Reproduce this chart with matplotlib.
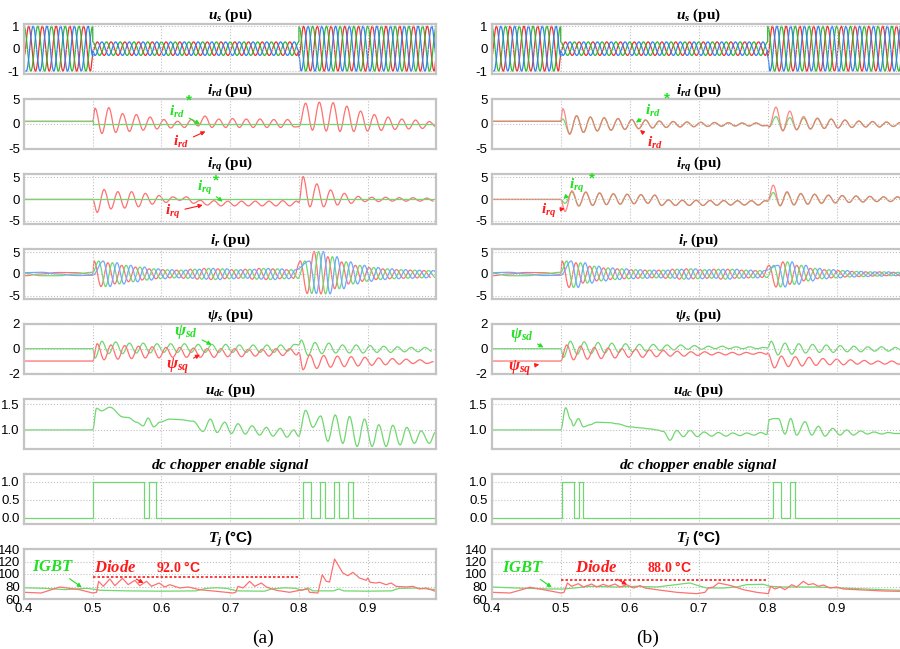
import numpy as np
import matplotlib
matplotlib.use('Agg')
import matplotlib.pyplot as plt
from matplotlib.path import Path
from matplotlib.patches import PathPatch

plt.rcParams['font.family'] = 'Liberation Sans'
plt.rcParams['mathtext.fontset'] = 'custom'
plt.rcParams['mathtext.it'] = 'Liberation Serif:italic:bold'
plt.rcParams['mathtext.rm'] = 'Liberation Serif:bold'
plt.rcParams['mathtext.bf'] = 'Liberation Serif:bold'
plt.rcParams['mathtext.sf'] = 'Liberation Sans:bold'

HALF = 0.01  # half period of the 50 Hz oscillations

# ---------------- data ----------------
x_ticks = [0.4, 0.5, 0.6, 0.7, 0.8, 0.9]

# stator voltage amplitude per interval (pre-fault, fault, recovery)
us_amp = [1.0, 0.3, 1.0]
us_edges = [0.5, 0.8]
us_lags = [0.0067, 0.0, 0.0133]  # red, green, blue

# oscillating traces: value at 0.4, [value at 0.5, extrema...], [value at 0.8, extrema...]
ird_a_red_pre = 0.55
ird_a_red_f = [0.55, 3.2, -1.9, 3.3, -1.7, 2.1, -1.5, 1.9, -1.25, 1.4, -1.0, 0.9, -0.8, 0.55, -0.7,
               0.9, -0.4, 1.6, -0.7, 1.0, -0.7, 1.1, -0.7, 1.0, -0.7, 1.0, -0.7, 0.9, -0.7, 0.9, -0.6]
ird_a_red_r = [-0.55, 4.2, -1.25, 4.4, -1.4, 4.3, -1.5, 3.6, -1.5, 2.6, -1.4, 1.9, -1.3, 1.4, -1.1,
               1.0, -1.0, 0.8, -0.9, 0.5, -0.6]
ird_a_lags = [0.0034, 0.0097]
ird_a_ref = [0.55, 0.0]

ird_b_red_pre = 0.55
ird_b_red_f = [0.55, 3.1, -2.1, 1.7, -1.7, 1.4, -1.4, 1.25, -1.25, 1.1, -1.1, 0.9, -0.95, 0.8, -0.8,
               0.6, -0.7, 0.5, -0.6, 0.4, -0.55, 0.35, -0.5, 0.3, -0.45, 0.25, -0.4, 0.2, -0.4, 0.2, -0.35]
ird_b_red_r = [-0.3, -0.6, 3.4, -1.4, 2.6, -1.2, 1.5, -1.0, 1.2, -0.9, 1.0, -0.8, 0.8, -0.7, 0.6,
               -0.6, 0.5, -0.6, 0.4, -0.5, 0.3]
ird_b_grn_f = [0.55, 1.0, -1.9, 1.6, -1.7, 1.4, -1.4, 1.25, -1.25, 1.1, -1.1, 0.9, -0.95, 0.8, -0.8,
               0.6, -0.7, 0.5, -0.6, 0.4, -0.55, 0.35, -0.5, 0.3, -0.45, 0.25, -0.4, 0.2, -0.4, 0.2, -0.35]
ird_b_grn_r = [-0.3, -0.6, 1.5, -1.3, 1.3, -1.1, 1.2, -1.0, 1.1, -0.9, 1.0, -0.8, 0.8, -0.7, 0.6,
               -0.6, 0.5, -0.6, 0.4, -0.5, 0.3]
ird_b_lags = [0.003, 0.002]

irq_a_red_pre = -0.1
irq_a_red_f = [-0.1, -3.1, 2.2, -2.3, 1.7, -2.1, 1.7, -1.8, 1.3, -1.2, 0.8, -0.8, 0.5, -0.3, 0.5,
               -1.0, -0.3, -1.4, -0.4, -1.6, -0.5, -1.6, -0.5, -1.6, -0.5, -1.6, -0.5, -1.6, -0.4, -1.6, -0.5]
irq_a_red_r = [-0.8, 5.2, -1.8, 3.5, -1.8, 2.1, -1.4, 1.3, -1.0, 0.6, -0.6, 0.4, -0.6, 0.4, -0.5,
               0.3, -0.5, 0.3, -0.5, 0.2, -0.5]
irq_a_lags = [0.0065, 0.006]
irq_a_ref = [0.0, 0.0]

irq_b_red_pre = -0.1
irq_b_red_f = [-0.1, -2.9, 1.9, -1.6, 1.6, -1.5, 1.4, -1.3, 1.2, -1.2, 1.1, -1.1, 1.0, -1.0, 0.9,
               -1.5, -0.2, -1.5, -0.3, -1.5, -0.3, -1.5, -0.35, -1.45, -0.35, -1.4, -0.4, -1.4, -0.4, -1.4, -0.4]
irq_b_red_r = [-0.5, 3.2, -1.6, 1.7, -1.4, 1.3, -1.2, 1.1, -1.0, 0.9, -0.9, 0.8, -0.8, 0.7, -0.7,
               0.6, -0.6, 0.5, -0.6, 0.5, -0.5]
irq_b_grn_f = [-0.1, -1.0, 1.6, -1.6, 1.6, -1.5, 1.4, -1.3, 1.2, -1.2, 1.1, -1.1, 1.0, -1.0, 0.9,
               -1.5, -0.2, -1.5, -0.3, -1.5, -0.3, -1.5, -0.35, -1.45, -0.35, -1.4, -0.4, -1.4, -0.4, -1.4, -0.4]
irq_b_grn_r = [-0.5, 1.5, -1.5, 1.5, -1.3, 1.2, -1.2, 1.1, -1.0, 0.9, -0.9, 0.8, -0.8, 0.7, -0.7,
               0.6, -0.6, 0.5, -0.6, 0.5, -0.5]
irq_b_lags = [0.0063, 0.008]

# rotor phase currents: slow pre-fault waves + envelope of the 50 Hz extrema
ir_pre_t = [0.4, 0.425, 0.45, 0.475, 0.5]
ir_pre_red = [-0.4, 0.0, 0.35, 0.3, -0.1]
ir_pre_grn = [0.2, -0.4, -0.4, 0.0, 0.4]
ir_pre_blu = [0.3, 0.4, 0.0, -0.35, -0.3]
ir_a_env_f = [3.0, 2.9, 2.6, 2.3, 2.0, 1.8, 1.6, 1.4, 1.2, 1.1, 1.0, 0.9, 0.9, 1.0, 1.1,
              1.2, 1.3, 1.3, 1.2, 1.1, 1.0, 1.0, 1.1, 1.2, 1.3, 1.3, 1.2, 1.1, 1.0, 1.0]
ir_a_env_r = [3.0, 4.5, 5.2, 4.6, 4.0, 3.4, 2.8, 2.3, 2.0, 1.7, 1.5, 1.3, 1.2, 1.1, 1.0,
              1.0, 0.9, 0.9, 0.8, 0.8]
ir_b_env_f = [3.0, 3.1, 2.6, 2.1, 1.8, 1.6, 1.4, 1.3, 1.2, 1.1, 1.0, 1.0, 0.9, 0.9, 0.9,
              1.0, 1.1, 1.2, 1.2, 1.1, 1.0, 1.0, 1.1, 1.2, 1.1, 1.0, 0.9, 0.9, 0.8, 0.8]
ir_b_env_r = [2.0, 3.0, 2.8, 2.4, 2.0, 1.6, 1.3, 1.1, 1.0, 0.9, 0.8, 0.7, 0.6, 0.6, 0.5,
              0.5, 0.5, 0.4, 0.4, 0.4]
ir_lag = 0.002

psi_a_sd_f = [0.0, -0.75, 0.6, -0.4, 0.55, -0.4, 0.45, -0.35, 0.45, -0.35, 0.4, -0.3, 0.4, -0.3, 0.4,
              -0.3, 0.35, -0.3, 0.35, -0.3, 0.35, -0.3, 0.3, -0.3, 0.3, -0.3, 0.3, -0.3, 0.3, -0.2, 0.35]
psi_a_sd_r = [0.3, 0.7, -0.55, 0.5, -0.4, 0.45, -0.35, 0.3, -0.35, 0.3, -0.35, 0.25, -0.3, 0.2, -0.3,
              0.15, -0.25, 0.1, -0.25, 0.1, -0.2]
psi_a_sd_lags = [0.0034, 0.0034]
psi_a_sq_f = [-1.0, 0.4, -0.9, 0.3, -0.85, 0.25, -0.8, 0.2, -0.75, 0.15, -0.75, 0.1, -0.7, 0.1, -0.7,
              0.05, -0.7, 0.0, -0.7, 0.0, -0.65, 0.0, -0.65, -0.05, -0.6, -0.05, -0.6, 0.0, -0.55, 0.0, -0.5]
psi_a_sq_r = [-0.3, -1.7, -0.5, -1.6, -0.55, -1.5, -0.6, -1.45, -0.65, -1.4, -0.7, -1.35, -0.75, -1.3, -0.8,
              -1.25, -0.85, -1.2, -0.9, -1.2, -1.05]
psi_a_sq_lags = [0.0065, 0.006]

psi_b_sd_f = [0.0, -0.7, 0.6, -0.45, 0.55, -0.4, 0.5, -0.35, 0.45, -0.3, 0.4, -0.25, 0.35, -0.2, 0.35,
              -0.15, 0.3, -0.1, 0.3, -0.05, 0.25, -0.05, 0.2, 0.0, 0.2, 0.0, 0.15, 0.0, 0.15, 0.0, 0.1]
psi_b_sd_r = [0.05, 0.6, -0.5, 0.45, -0.45, 0.4, -0.35, 0.35, -0.3, 0.3, -0.3, 0.25, -0.25, 0.2, -0.25,
              0.15, -0.2, 0.15, -0.2, 0.1, -0.15]
psi_b_sd_lags = [0.004, 0.005]
psi_b_sq_f = [-1.0, 0.3, -0.9, 0.2, -0.85, 0.1, -0.8, 0.05, -0.75, 0.0, -0.7, -0.05, -0.7, -0.1, -0.65,
              -0.15, -0.6, -0.2, -0.6, -0.25, -0.55, -0.25, -0.5, -0.3, -0.5, -0.3, -0.5, -0.3, -0.45, -0.3, -0.45]
psi_b_sq_r = [-0.35, -1.55, -0.6, -1.45, -0.65, -1.4, -0.7, -1.35, -0.8, -1.3, -0.85, -1.3, -0.9, -1.25, -0.95,
              -1.25, -1.0, -1.25, -1.0, -1.25, -1.05]
psi_b_sq_lags = [0.0087, 0.0099]

udc_a_t = [0.4, 0.5, 0.5056, 0.5128, 0.5249, 0.5443, 0.5516, 0.5637, 0.5734, 0.5806, 0.5889, 0.5976,
           0.6121, 0.6266, 0.646, 0.6605, 0.6712, 0.6809, 0.692, 0.7017, 0.7114, 0.722, 0.7317, 0.7429,
           0.7525, 0.7622, 0.7729, 0.7826, 0.7923, 0.7995, 0.8097, 0.8203, 0.8315, 0.8421, 0.8528, 0.8639,
           0.8736, 0.8847, 0.8954, 0.9065, 0.9162, 0.9269, 0.9366, 0.9472, 0.9569, 0.968, 0.9777, 0.9898, 0.9985]
udc_a_v = [1.0, 1.0, 1.42, 1.37, 1.44, 1.25, 1.24, 1.15, 1.08, 1.23, 1.06, 1.15,
           1.21, 1.2, 1.17, 0.97, 1.21, 0.95, 1.15, 0.93, 1.12, 0.92, 1.08, 0.9,
           1.05, 0.88, 1.03, 0.86, 1.0, 0.88, 1.38, 1.05, 1.27, 0.78, 1.29, 0.74,
           1.26, 0.68, 1.21, 0.68, 1.1, 0.68, 1.09, 0.71, 1.05, 0.74, 0.98, 0.74, 0.95]
udc_b_t = [0.4, 0.5, 0.5072, 0.5145, 0.5184, 0.5256, 0.5329, 0.5425, 0.5522, 0.5715, 0.5812, 0.6005,
           0.615, 0.6295, 0.6391, 0.6488, 0.6585, 0.6681, 0.6778, 0.6874, 0.6981, 0.7077, 0.7188, 0.7285,
           0.7396, 0.7493, 0.7599, 0.7696, 0.7802, 0.7899, 0.7986, 0.8024, 0.8082, 0.8155, 0.8251, 0.8333,
           0.842, 0.8541, 0.8638, 0.8734, 0.8831, 0.8942, 0.9048, 0.9145, 0.9242, 0.9348, 0.9444, 0.9541,
           0.9652, 0.9749, 0.9845, 0.9918]
udc_b_v = [1.0, 1.0, 1.43, 1.2, 1.08, 1.22, 1.06, 1.1, 1.15, 1.14, 1.12, 1.06,
           1.04, 1.02, 1.0, 0.97, 0.8, 0.99, 0.87, 0.99, 0.87, 0.96, 0.88, 0.95,
           0.88, 0.94, 0.89, 0.94, 0.9, 0.95, 0.91, 1.2, 1.22, 1.22, 0.92, 1.22,
           0.9, 1.16, 0.9, 1.07, 0.88, 1.03, 0.9, 1.0, 0.9, 0.98, 0.92, 0.96,
           0.92, 0.95, 0.93, 0.93]

chop_a = [(0.501, 0.575), (0.582, 0.592), (0.806, 0.818), (0.830, 0.838), (0.851, 0.858), (0.872, 0.879)]
chop_b = [(0.502, 0.519), (0.527, 0.533), (0.807, 0.820), (0.833, 0.840)]

tj_a_igbt_t = [0.40, 0.43, 0.46, 0.49, 0.50, 0.51, 0.55, 0.60, 0.65, 0.665, 0.68, 0.695, 0.71, 0.75,
               0.76, 0.78, 0.795, 0.805, 0.813, 0.82, 0.85, 0.858, 0.865, 0.90, 0.935, 0.945, 0.97, 1.0]
tj_a_igbt_v = [78, 77, 75, 77, 76, 74, 73, 72.5, 73, 77, 78, 77, 73, 72.5,
               76, 78, 77, 74, 78, 73, 73, 76, 73, 72.5, 73, 77, 77.5, 75]
tj_a_diode_t = [0.4, 0.425, 0.452, 0.481, 0.4998, 0.5056, 0.5085, 0.5153, 0.5249, 0.5322, 0.5433, 0.5516,
                0.5613, 0.5685, 0.5782, 0.5855, 0.5966, 0.6048, 0.6121, 0.6266, 0.6387, 0.6557, 0.6799,
                0.7041, 0.708, 0.7114, 0.7187, 0.7283, 0.7356, 0.7453, 0.7525, 0.7671, 0.7864, 0.801,
                0.8131, 0.8155, 0.8276, 0.8339, 0.8397, 0.8446, 0.8518, 0.8567, 0.8639, 0.8712, 0.8785,
                0.8881, 0.8978, 0.9002, 0.9036, 0.9123, 0.9172, 0.9269, 0.9341, 0.9414, 0.9559, 0.9656,
                0.9753, 0.985, 0.9985]
tj_a_diode_v = [70.7, 69.6, 79.2, 74.9, 69.6, 70.7, 88.3, 80.3, 92, 81.3, 93, 83,
                89.9, 81.3, 88.3, 80.3, 85.6, 79.2, 82.9, 77.6, 79.2, 74.9, 72.3,
                69.6, 70.7, 80.3, 77.6, 88.3, 80.3, 85.6, 79.2, 73.9, 70.7, 73.9,
                76, 70.7, 69.6, 98.9, 88.3, 87.2, 124, 114.9, 101.6, 97.3, 102.7,
                93.6, 89.9, 93.6, 86.7, 85.6, 86.7, 82.9, 85.6, 80.3, 79.2, 80.3,
                76, 77.6, 72.3]
tj_b_igbt_t = [0.4, 0.436, 0.4845, 0.5039, 0.5232, 0.5425, 0.5812, 0.6101, 0.6391, 0.6633, 0.6778,
               0.6874, 0.6995, 0.7116, 0.7357, 0.7551, 0.7696, 0.7937, 0.8034, 0.8227, 0.871, 0.9193,
               0.9676, 0.9918]
tj_b_igbt_v = [79.2, 77.6, 76, 76, 78, 80.3, 79.2, 80.3, 79.2, 82.4, 84.5,
               85.6, 81.3, 77.6, 77.6, 79.2, 83, 83.5, 80.3, 79.2, 79.2, 77,
               74.9, 73.9]
tj_b_diode_t = [0.4, 0.4266, 0.4556, 0.4749, 0.5005, 0.5048, 0.5097, 0.5159, 0.5256, 0.5329, 0.5449,
                0.5522, 0.5618, 0.5691, 0.5787, 0.586, 0.5957, 0.6053, 0.615, 0.6222, 0.6391, 0.6681,
                0.6971, 0.7092, 0.714, 0.7213, 0.7285, 0.7406, 0.7502, 0.7647, 0.7841, 0.801, 0.8043,
                0.8106, 0.8179, 0.8251, 0.8348, 0.842, 0.8517, 0.8589, 0.8662, 0.8734, 0.8807, 0.8903,
                0.9, 0.9097, 0.929, 0.9483, 0.9676, 0.9918]
tj_b_diode_v = [70.7, 69.6, 78.7, 74.9, 69.6, 70.7, 85.6, 80.3, 84.5, 79.2, 84,
                79.2, 83.5, 80.3, 84, 79.2, 82.9, 77.6, 81.3, 77.6, 74.9, 70.7,
                68.5, 70.7, 77.6, 79.2, 85.6, 82.9, 80.3, 74.9, 70.7, 68.5, 80.3,
                76, 79.2, 74.9, 82.9, 79.2, 88.3, 82.9, 84.5, 80.3, 82.4, 77.6,
                79.2, 76, 74.9, 73.9, 72.8, 72.3]
tj_limit = [92.0, 88.0]

# ---------------- helpers ----------------
RED, GRN, BLU = '#ff7070', '#70d870', '#70a8ff'
RED_S, GRN_S, BLU_S = '#f03030', '#30b830', '#3080f0'
LBL_R, LBL_G = '#ff1a1a', '#22e022'
K = 0.3642  # bezier handle length: smooth curve with flat tangents at each point


def wave(pre, f, r, lags):
    tf = np.r_[0.5, 0.5 + lags[0] + HALF * np.arange(len(f) - 1)]
    tr = np.r_[0.8, 0.8 + lags[1] + HALF * np.arange(len(r) - 1)]
    return np.r_[0.4, tf, tr], np.r_[pre, f, r]


def us_phase(lag):
    k = np.arange(-1, 62)
    tk = 0.4 + lag + HALF * k
    sk = (-1.0) ** k
    tt, vv = [], []
    bounds = [0.4] + us_edges + [1.0]
    for i in range(3):
        a, b = bounds[i], bounds[i + 1]
        m = (tk > a) & (tk < b)
        ts = np.r_[a, tk[m], b]
        tt.append(ts)
        vv.append(np.interp(ts, tk, sk) * us_amp[i])
    return np.concatenate(tt), np.concatenate(vv)


def ir_phase(pre_v, env_f, env_r, p):
    off = ir_lag + p * 2 * HALF / 3
    kf, kr = np.arange(len(env_f)), np.arange(len(env_r))
    tf = 0.5 + off + HALF * kf
    tr = 0.8 + off + HALF * kr
    m = tf < 0.8
    t = np.r_[ir_pre_t, tf[m], tr]
    v = np.r_[pre_v, (np.array(env_f) * (-1.0) ** kf)[m], np.array(env_r) * (-1.0) ** kr]
    return t, v


def smooth(ax, t, v, color, lw=0.9, alpha=1.0):
    # draw through the points with cubic bezier pieces (flat at each extremum)
    t = np.asarray(t, float)
    v = np.asarray(v, float)
    verts = [(t[0], v[0])]
    codes = [Path.MOVETO]
    for i in range(1, len(t)):
        d = t[i] - t[i - 1]
        if d <= 0:
            verts.append((t[i], v[i]))
            codes.append(Path.LINETO)
        else:
            verts += [(t[i - 1] + K * d, v[i - 1]), (t[i] - K * d, v[i]), (t[i], v[i])]
            codes += [Path.CURVE4] * 3
    ax.add_patch(PathPatch(Path(verts, codes), fill=False, edgecolor=color, lw=lw, alpha=alpha))


def chop_steps(pulses):
    t, v = [0.4], [0]
    for a, b in pulses:
        t += [a, a, b, b]
        v += [0, 1, 1, 0]
    return t + [1.0], v + [0]


def label(ax, txt, xy, tip, color, size=11):
    ax.annotate(txt, xy=tip, xytext=xy, color=color, fontsize=size,
                family='Liberation Serif', weight='bold', ha='center', va='center',
                annotation_clip=False,
                arrowprops=dict(arrowstyle='-|>', color=color, lw=0.8,
                                mutation_scale=6, shrinkA=1, shrinkB=0))


# ---------------- figure ----------------
fig = plt.figure(figsize=(9, 6.49), dpi=100)
W, H = 900, 649
cols = [(24, 412.4), (491.7, 414)]
titles = [r'$u_s$ (pu)', r'$i_{rd}$ (pu)', r'$i_{rq}$ (pu)', r'$i_r$ (pu)', r'$\psi_s$ (pu)',
          r'$u_{dc}$ (pu)', r'$dc\ chopper\ enable\ signal$', r'$T_j\ \mathsf{(°C)}$']
ylims = [(-1.13, 1.1), (-5.05, 5.05), (-5.8, 5.8), (-5.8, 5.8), (-2.05, 2.0), (0.63, 1.6),
         (-0.175, 1.21), (60, 140)]
yticks = [[-1, 0, 1], [-5, 0, 5], [-5, 0, 5], [-5, 0, 5], [-2, 0, 2], [1.0, 1.5],
          [0.0, 0.5, 1.0], [60, 80, 100, 120, 140]]
yfmt = ['{:g}'] * 5 + ['{:.1f}', '{:.1f}', '{:g}']

axes = []
for c, (left, width) in enumerate(cols):
    col = []
    for r in range(8):
        top = 24 + 75 * r
        ax = fig.add_axes([left / W, 1 - (top + 50) / H, width / W, 50 / H])
        ax.set_xlim(0.4, 1.0)
        ax.set_ylim(*ylims[r])
        ax.set_xticks(x_ticks)
        ax.set_yticks(yticks[r])
        ax.set_yticklabels([yfmt[r].format(v) for v in yticks[r]])
        ax.grid(True, linestyle=':', color='#c0c0c0', lw=0.8)
        ax.tick_params(length=0, labelsize=9.5, pad=3)
        if r < 7:
            ax.set_xticklabels([])
        for s in ax.spines.values():
            s.set_color('#c4c4c4')
            s.set_linewidth(1.6)
        ax.set_title(titles[r], fontsize=11, family='Liberation Serif', weight='bold', pad=3)
        col.append(ax)
    axes.append(col)

lw = 0.9
for c in range(2):
    ax = axes[c][0]
    for lag, colr in zip(us_lags, [RED_S, GRN_S, BLU_S]):
        smooth(ax, *us_phase(lag), colr, lw)

# i_rd
ax = axes[0][1]
ax.plot([0.4, 0.5, 0.5, 1.0], [ird_a_ref[0], ird_a_ref[0], ird_a_ref[1], ird_a_ref[1]], color=GRN, lw=lw)
smooth(ax, *wave(ird_a_red_pre, ird_a_red_f, ird_a_red_r, ird_a_lags), RED, lw)
label(ax, r'$i_{rd}$', (0.623, 2.5), (0.656, 0.0), LBL_G)
ax.text(0.640, 4.7, '*', color=LBL_G, fontsize=11, weight='bold', ha='center', va='center')
label(ax, r'$i_{rd}$', (0.629, -3.7), (0.664, -1.5), LBL_R)

ax = axes[1][1]
smooth(ax, *wave(ird_b_red_pre, ird_b_grn_f, ird_b_grn_r, ird_b_lags), GRN, lw)
smooth(ax, *wave(ird_b_red_pre, ird_b_red_f, ird_b_red_r, ird_b_lags), RED, lw, 0.85)
label(ax, r'$i_{rd}$', (0.634, 2.6), (0.609, 0.3), LBL_G)
ax.text(0.654, 5.2, '*', color=LBL_G, fontsize=11, weight='bold', ha='center', va='center', clip_on=False)
label(ax, r'$i_{rd}$', (0.637, -3.9), (0.615, -1.2), LBL_R)

# i_rq
ax = axes[0][2]
ax.plot([0.4, 1.0], irq_a_ref, color=GRN, lw=lw)
smooth(ax, *wave(irq_a_red_pre, irq_a_red_f, irq_a_red_r, irq_a_lags), RED, lw)
label(ax, r'$i_{rq}$', (0.663, 2.6), (0.689, -0.6), LBL_G)
ax.text(0.680, 4.3, '*', color=LBL_G, fontsize=11, weight='bold', ha='center', va='center')
label(ax, r'$i_{rq}$', (0.617, -3.0), (0.66, -1.4), LBL_R)

ax = axes[1][2]
smooth(ax, *wave(irq_b_red_pre, irq_b_grn_f, irq_b_grn_r, irq_b_lags), GRN, lw)
smooth(ax, *wave(irq_b_red_pre, irq_b_red_f, irq_b_red_r, irq_b_lags), RED, lw, 0.85)
label(ax, r'$i_{rq}$', (0.523, 2.9), (0.504, 0.0), LBL_G)
ax.text(0.546, 4.8, '*', color=LBL_G, fontsize=11, weight='bold', ha='center', va='center')
label(ax, r'$i_{rq}$', (0.482, -2.9), (0.506, -2.2), LBL_R)

# i_r
for c, (ef, er) in enumerate([(ir_a_env_f, ir_a_env_r), (ir_b_env_f, ir_b_env_r)]):
    ax = axes[c][3]
    for p, (pre, colr) in enumerate(zip([ir_pre_red, ir_pre_grn, ir_pre_blu], [RED, GRN, BLU])):
        smooth(ax, *ir_phase(pre, ef, er, p), colr, lw)

# psi_s
ax = axes[0][4]
smooth(ax, *wave(0.0, psi_a_sd_f, psi_a_sd_r, psi_a_sd_lags), GRN, lw)
smooth(ax, *wave(-1.0, psi_a_sq_f, psi_a_sq_r, psi_a_sq_lags), RED, lw)
label(ax, r'$\psi_{sd}$', (0.636, 1.35), (0.673, 0.32), LBL_G, 12)
label(ax, r'$\psi_{sq}$', (0.624, -1.45), (0.656, -0.48), LBL_R, 12)

ax = axes[1][4]
smooth(ax, *wave(0.0, psi_b_sd_f, psi_b_sd_r, psi_b_sd_lags), GRN, lw)
smooth(ax, *wave(-1.0, psi_b_sq_f, psi_b_sq_r, psi_b_sq_lags), RED, lw)
label(ax, r'$\psi_{sd}$', (0.4435, 1.12), (0.475, 0.1), LBL_G, 12)
label(ax, r'$\psi_{sq}$', (0.441, -1.55), (0.469, -1.28), LBL_R, 12)

# u_dc
smooth(axes[0][5], udc_a_t, udc_a_v, GRN, lw)
smooth(axes[1][5], udc_b_t, udc_b_v, GRN, lw)

# chopper
axes[0][6].plot(*chop_steps(chop_a), color=GRN, lw=lw)
axes[1][6].plot(*chop_steps(chop_b), color=GRN, lw=lw)

# T_j
tj = [(tj_a_igbt_t, tj_a_igbt_v, tj_a_diode_t, tj_a_diode_v),
      (tj_b_igbt_t, tj_b_igbt_v, tj_b_diode_t, tj_b_diode_v)]
lim_y = [94.5, 90.0]
txt_pos = [[(0.4426, 111), (0.484, 78.7), (0.532, 110), (0.574, 85.6), (0.624, 110)],
           [(0.446, 110), (0.487, 78.7), (0.552, 110), (0.596, 83), (0.658, 110)]]
for c in range(2):
    ax = axes[c][7]
    it, iv, dt, dv = tj[c]
    ax.plot(it, iv, color=GRN, lw=lw)
    ax.plot(dt, dv, color=RED, lw=lw)
    ax.plot([0.5, 0.8], [lim_y[c], lim_y[c]], color=LBL_R, lw=1.2, linestyle=(0, (1.5, 1.2)))
    p = txt_pos[c]
    label(ax, r'$IGBT$', p[0], p[1], LBL_G, 12)
    label(ax, r'$Diode$', p[2], p[3], LBL_R, 12)
    ax.text(p[4][0], p[4][1], r'$\mathit{%.1f}\ \mathsf{°C}$' % tj_limit[c], color=LBL_R, fontsize=10,
            ha='center', va='center')

fig.text(263 / W, 1 - 638 / H, '(a)', fontsize=14, family='Liberation Serif', ha='center', va='center')
fig.text(647.5 / W, 1 - 638 / H, '(b)', fontsize=14, family='Liberation Serif', ha='center', va='center')

fig.savefig('out.png', dpi=100, facecolor='white')
